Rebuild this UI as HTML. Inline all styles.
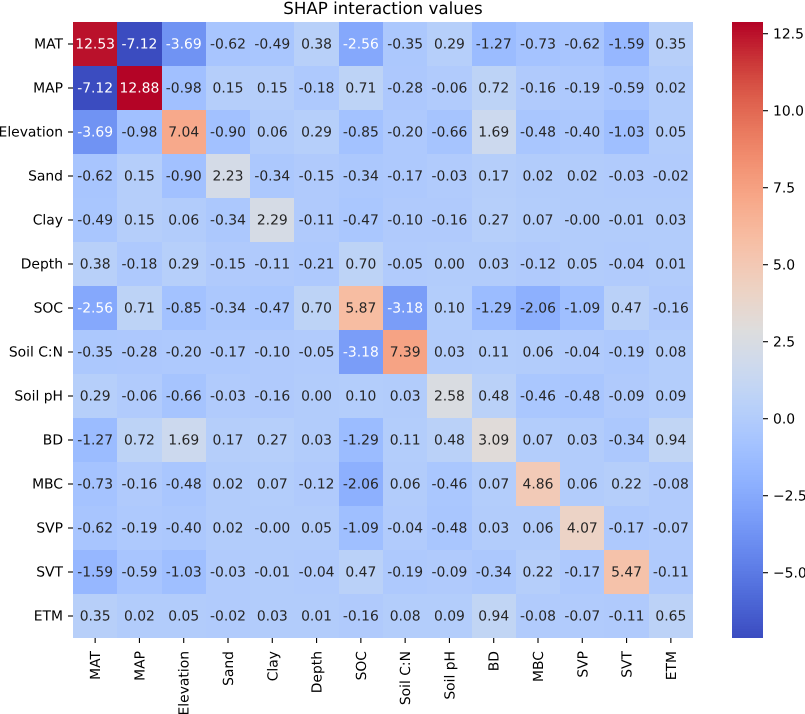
<!DOCTYPE html>
<html lang="en">
<head>
<meta charset="utf-8">
<title>SHAP interaction values</title>
<style>
  html, body { margin: 0; padding: 0; background: #fff; }
  body { width: 805px; height: 714px; overflow: hidden; }
  svg { display: block; }
  text { font-family: "DejaVu Sans", "Liberation Sans", sans-serif; text-rendering: geometricPrecision; }
</style>
</head>
<body>
<svg id="chart" xmlns="http://www.w3.org/2000/svg" width="805" height="714" viewBox="0 0 805 714">
  <text x="383" y="14" text-anchor="middle" font-size="16.67" fill="#000">SHAP interaction values</text>
  <g id="cells" shape-rendering="crispEdges"></g>
  <g id="annotations"></g>
  <g id="x-axis"></g>
  <g id="y-axis"></g>
  <g id="colorbar"></g>
</svg>
<script>
const categories = ["MAT", "MAP", "Elevation", "Sand", "Clay", "Depth", "SOC", "Soil C:N", "Soil pH", "BD", "MBC", "SVP", "SVT", "ETM"];

const rowMAT = [12.53, -7.12, -3.69, -0.62, -0.49, 0.38, -2.56, -0.35, 0.29, -1.27, -0.73, -0.62, -1.59, 0.35];
const rowMAP = [-7.12, 12.88, -0.98, 0.15, 0.15, -0.18, 0.71, -0.28, -0.06, 0.72, -0.16, -0.19, -0.59, 0.02];
const rowElevation = [-3.69, -0.98, 7.04, -0.90, 0.06, 0.29, -0.85, -0.20, -0.66, 1.69, -0.48, -0.40, -1.03, 0.05];
const rowSand = [-0.62, 0.15, -0.90, 2.23, -0.34, -0.15, -0.34, -0.17, -0.03, 0.17, 0.02, 0.02, -0.03, -0.02];
const rowClay = [-0.49, 0.15, 0.06, -0.34, 2.29, -0.11, -0.47, -0.10, -0.16, 0.27, 0.07, -0.00, -0.01, 0.03];
const rowDepth = [0.38, -0.18, 0.29, -0.15, -0.11, -0.21, 0.70, -0.05, 0.00, 0.03, -0.12, 0.05, -0.04, 0.01];
const rowSOC = [-2.56, 0.71, -0.85, -0.34, -0.47, 0.70, 5.87, -3.18, 0.10, -1.29, -2.06, -1.09, 0.47, -0.16];
const rowSoilCN = [-0.35, -0.28, -0.20, -0.17, -0.10, -0.05, -3.18, 7.39, 0.03, 0.11, 0.06, -0.04, -0.19, 0.08];
const rowSoilPH = [0.29, -0.06, -0.66, -0.03, -0.16, 0.00, 0.10, 0.03, 2.58, 0.48, -0.46, -0.48, -0.09, 0.09];
const rowBD = [-1.27, 0.72, 1.69, 0.17, 0.27, 0.03, -1.29, 0.11, 0.48, 3.09, 0.07, 0.03, -0.34, 0.94];
const rowMBC = [-0.73, -0.16, -0.48, 0.02, 0.07, -0.12, -2.06, 0.06, -0.46, 0.07, 4.86, 0.06, 0.22, -0.08];
const rowSVP = [-0.62, -0.19, -0.40, 0.02, -0.00, 0.05, -1.09, -0.04, -0.48, 0.03, 0.06, 4.07, -0.17, -0.07];
const rowSVT = [-1.59, -0.59, -1.03, -0.03, -0.01, -0.04, 0.47, -0.19, -0.09, -0.34, 0.22, -0.17, 5.47, -0.11];
const rowETM = [0.35, 0.02, 0.05, -0.02, 0.03, 0.01, -0.16, 0.08, 0.09, 0.94, -0.08, -0.07, -0.11, 0.65];
const matrix = [rowMAT, rowMAP, rowElevation, rowSand, rowClay, rowDepth, rowSOC, rowSoilCN, rowSoilPH, rowBD, rowMBC, rowSVP, rowSVT, rowETM];

const colorbarTicks = [-5, -2.5, 0, 2.5, 5, 7.5, 10, 12.5];

const coolwarmR = [59,68,77,87,98,108,119,130,141,152,163,174,184,194,204,213,221,229,236,241,245,247,247,247,244,241,236,229,222,213,203,192,180];
const coolwarmG = [76,90,104,117,130,142,154,165,176,185,194,201,208,213,217,219,221,216,211,204,196,187,177,166,154,141,127,112,96,77,55,29,4];
const coolwarmB = [192,204,215,225,234,241,247,251,254,255,255,253,249,244,238,230,221,209,197,185,173,160,148,135,123,111,99,88,77,66,56,47,38];

const NS = "http://www.w3.org/2000/svg";
const plot = { left: 73, right: 693, top: 22, bottom: 638 };
const bar = { left: 732, right: 763, top: 22, bottom: 638 };
const tickLen = 5;
const tickPad = 5;
const fontSize = 13.89;
const baselineShift = 4.5;

const allValues = matrix.flat();
const vmin = Math.min(...allValues);
const vmax = Math.max(...allValues);

function xEdge(i) { return plot.left + (plot.right - plot.left) * i / categories.length; }
function yEdge(i) { return plot.top + (plot.bottom - plot.top) * i / categories.length; }
function xCenter(i) { return xEdge(i + 0.5); }
function yCenter(i) { return yEdge(i + 0.5); }
function barY(v) { return bar.bottom - (v - vmin) / (vmax - vmin) * (bar.bottom - bar.top); }

function levelRGB(level) {
  const t = level / 255 * (coolwarmR.length - 1);
  const lo = Math.min(Math.floor(t), coolwarmR.length - 2);
  const f = t - lo;
  return [coolwarmR, coolwarmG, coolwarmB].map(ch => Math.round(ch[lo] + (ch[lo + 1] - ch[lo]) * f));
}
function valueLevel(v) {
  const p = (v - vmin) / (vmax - vmin);
  return Math.max(0, Math.min(255, Math.floor(p * 256)));
}
function cssColor(rgb) { return "rgb(" + rgb.join(",") + ")"; }
function luminance(rgb) {
  const lin = rgb.map(c => {
    const s = c / 255;
    return s <= 0.03928 ? s / 12.92 : Math.pow((s + 0.055) / 1.055, 2.4);
  });
  return 0.2126 * lin[0] + 0.7152 * lin[1] + 0.0722 * lin[2];
}
function formatCell(v) {
  const negative = v < 0 || Object.is(v, -0);
  return (negative ? "-" : "") + Math.abs(v).toFixed(2);
}
function formatBarTick(v) {
  return (v < 0 ? "\u2212" : "") + Math.abs(v).toFixed(1);
}
function make(tag, parent, attrs) {
  const node = document.createElementNS(NS, tag);
  for (const key in attrs) node.setAttribute(key, attrs[key]);
  parent.appendChild(node);
  return node;
}

const cellsGroup = document.getElementById("cells");
const annotationsGroup = document.getElementById("annotations");
const xAxisGroup = document.getElementById("x-axis");
const yAxisGroup = document.getElementById("y-axis");
const colorbarGroup = document.getElementById("colorbar");

matrix.forEach(function (row, r) {
  row.forEach(function (value, c) {
    const rgb = levelRGB(valueLevel(value));
    const x0 = Math.round(xEdge(c));
    const x1 = Math.round(xEdge(c + 1));
    const y0 = Math.round(yEdge(r));
    const y1 = Math.round(yEdge(r + 1));
    const cell = make("rect", cellsGroup, { x: x0, y: y0, width: x1 - x0, height: y1 - y0, fill: cssColor(rgb) });
    
    
    const label = make("text", annotationsGroup, {
      x: xCenter(c), y: yCenter(r) + baselineShift,
      "text-anchor": "middle", "font-size": fontSize,
      fill: luminance(rgb) > 0.408 ? "#262626" : "#ffffff"
    });
    
    
    label.textContent = formatCell(value);
  });
});

categories.forEach(function (name, i) {
  const xt = xCenter(i);
  const xTick = make("line", xAxisGroup, { x1: xt, x2: xt, y1: plot.bottom, y2: plot.bottom + tickLen, stroke: "#000", "stroke-width": 1.1 });
  
  
  const xBaseX = xt + 5;
  const xBaseY = plot.bottom + tickLen + tickPad + 3;
  const xLabel = make("text", xAxisGroup, {
    x: xBaseX, y: xBaseY, "text-anchor": "end", "font-size": fontSize, fill: "#000",
    transform: "rotate(-90 " + xBaseX + " " + xBaseY + ")"
  });
  
  
  xLabel.textContent = name;

  const yt = yCenter(i);
  const yTick = make("line", yAxisGroup, { x1: plot.left - tickLen, x2: plot.left, y1: yt, y2: yt, stroke: "#000", "stroke-width": 1.1 });
  
  
  const yLabel = make("text", yAxisGroup, {
    x: plot.left - tickLen - tickPad, y: yt + baselineShift, "text-anchor": "end", "font-size": fontSize, fill: "#000"
  });
  
  
  yLabel.textContent = name;
});

const bands = make("g", colorbarGroup, { "shape-rendering": "crispEdges" });


for (let level = 0; level < 256; level++) {
  const yBottom = bar.bottom - (bar.bottom - bar.top) * level / 256;
  const yTop = bar.bottom - (bar.bottom - bar.top) * (level + 1) / 256;
  const band = make("rect", bands, {
    x: bar.left, y: Math.floor(yTop), width: bar.right - bar.left,
    height: Math.ceil(yBottom) - Math.floor(yTop), fill: cssColor(levelRGB(level))
  });
  
  
}

colorbarTicks.forEach(function (v) {
  const y = barY(v);
  const tick = make("line", colorbarGroup, { x1: bar.right, x2: bar.right + tickLen, y1: y, y2: y, stroke: "#000", "stroke-width": 1.1 });
  
  
  const label = make("text", colorbarGroup, {
    x: bar.right + tickLen + tickPad, y: y + 5, "font-size": fontSize, fill: "#000"
  });
  
  
  label.textContent = formatBarTick(v);
});
</script>
</body>
</html>
